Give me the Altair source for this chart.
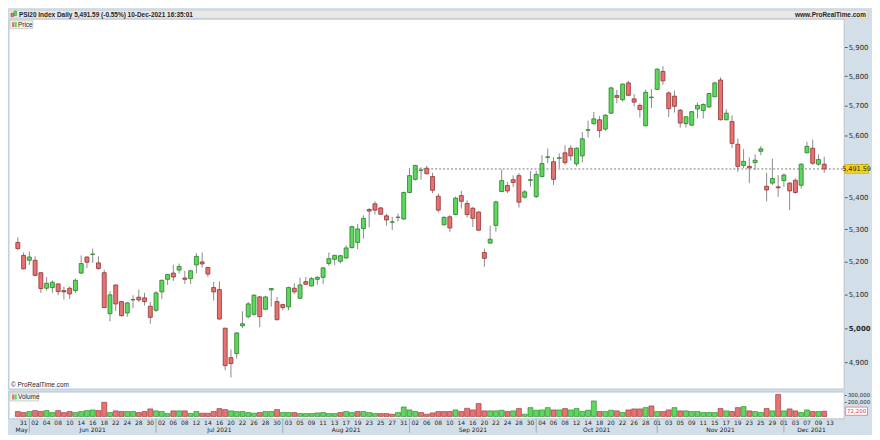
import altair as alt
import pandas as pd

# ---------------- values ----------------
title_text = "PSI20 Index Daily 5,491.59 (-0.55%) 10-Dec-2021 16:35:01"
site_text = "www.ProRealTime.com"
copyright_text = "\u00a9 ProRealTime.com"

sessions = pd.bdate_range("2021-05-28", "2021-12-10")       # one candle per session
axis_sessions = pd.bdate_range("2021-05-28", "2021-12-13")  # date axis runs one session further

open_ = [5259, 5219, 5204, 5204, 5166, 5119, 5121, 5132, 5112, 5119,
         5112, 5165, 5214, 5222, 5196, 5166, 5043, 5129, 5079, 5045,
         5084, 5092, 5090, 5065, 5053, 5108, 5146, 5165, 5174, 5150,
         5148, 5190, 5199, 5182, 5121, 5115, 5000, 4914, 4926, 5007,
         5034, 5041, 5093, 5056, 5114, 5079, 5070, 5063, 5119, 5089,
         5139, 5126, 5146, 5152, 5194, 5207, 5201, 5211, 5243, 5259,
         5302, 5362, 5380, 5367, 5342, 5322, 5337, 5332, 5416, 5458,
         5487, 5494, 5467, 5404, 5314, 5339, 5346, 5406, 5381, 5366,
         5354, 5228, 5257, 5312, 5419, 5438, 5457, 5470, 5401, 5455,
         5403, 5467, 5529, 5515, 5526, 5544, 5559, 5508, 5534, 5618,
         5640, 5653, 5622, 5675, 5734, 5720, 5777, 5723, 5701, 5633,
         5727, 5755, 5816, 5743, 5732, 5685, 5640, 5635, 5689, 5684,
         5696, 5730, 5787, 5653, 5647, 5572, 5503, 5500, 5512, 5549,
         5436, 5446, 5434, 5454, 5446, 5455, 5439, 5544, 5559, 5507,
         5507]
high = [5275, 5228, 5231, 5216, 5167, 5153, 5143, 5134, 5124, 5124,
        5148, 5219, 5216, 5240, 5216, 5175, 5110, 5129, 5081, 5078,
        5098, 5115, 5105, 5078, 5110, 5145, 5162, 5190, 5194, 5172,
        5175, 5226, 5228, 5184, 5138, 5140, 5001, 4938, 4988, 5050,
        5078, 5101, 5096, 5096, 5119, 5093, 5072, 5124, 5134, 5151,
        5153, 5153, 5155, 5182, 5228, 5221, 5221, 5250, 5311, 5317,
        5344, 5366, 5388, 5370, 5349, 5339, 5349, 5419, 5495, 5505,
        5497, 5502, 5479, 5413, 5341, 5344, 5403, 5421, 5391, 5370,
        5356, 5240, 5311, 5390, 5490, 5449, 5471, 5478, 5424, 5485,
        5485, 5536, 5558, 5530, 5542, 5569, 5569, 5562, 5612, 5650,
        5679, 5665, 5672, 5764, 5753, 5775, 5784, 5739, 5708, 5754,
        5756, 5827, 5834, 5749, 5751, 5689, 5664, 5682, 5711, 5708,
        5743, 5781, 5796, 5688, 5668, 5591, 5556, 5529, 5539, 5566,
        5479, 5525, 5471, 5477, 5449, 5461, 5510, 5580, 5587, 5539,
        5531]
low = [5236, 5176, 5190, 5155, 5105, 5112, 5105, 5098, 5085, 5087,
       5105, 5162, 5180, 5196, 5175, 5059, 5020, 5051, 5034, 5034,
       5059, 5078, 5067, 5013, 5048, 5087, 5129, 5141, 5164, 5132,
       5132, 5164, 5182, 5153, 5082, 5025, 4878, 4857, 4911, 5001,
       5029, 5037, 5003, 5053, 5064, 5023, 5053, 5053, 5102, 5087,
       5129, 5124, 5130, 5132, 5187, 5190, 5194, 5209, 5240, 5238,
       5271, 5306, 5346, 5345, 5311, 5297, 5324, 5329, 5413, 5454,
       5457, 5474, 5414, 5353, 5311, 5292, 5344, 5365, 5337, 5307,
       5294, 5184, 5255, 5292, 5417, 5414, 5434, 5368, 5396, 5434,
       5398, 5464, 5510, 5440, 5495, 5505, 5519, 5500, 5513, 5594,
       5635, 5594, 5616, 5672, 5708, 5714, 5732, 5698, 5660, 5631,
       5692, 5754, 5771, 5662, 5677, 5627, 5627, 5632, 5657, 5657,
       5692, 5729, 5651, 5651, 5560, 5482, 5495, 5446, 5488, 5536,
       5388, 5440, 5402, 5434, 5360, 5412, 5429, 5543, 5505, 5502,
       5479]
close = [5240, 5178, 5214, 5158, 5118, 5134, 5137, 5109, 5108, 5102,
         5143, 5194, 5198, 5223, 5179, 5061, 5099, 5072, 5037, 5075,
         5085, 5084, 5079, 5032, 5105, 5143, 5161, 5153, 5185, 5146,
         5172, 5216, 5193, 5162, 5108, 5027, 4891, 4897, 4986, 5013,
         5072, 5098, 5034, 5093, 5118, 5025, 5061, 5121, 5108, 5129,
         5131, 5148, 5152, 5181, 5209, 5219, 5218, 5242, 5308, 5301,
         5334, 5357, 5360, 5347, 5329, 5323, 5338, 5416, 5470, 5503,
         5488, 5476, 5423, 5360, 5337, 5304, 5398, 5388, 5346, 5334,
         5297, 5210, 5269, 5386, 5454, 5421, 5448, 5385, 5418, 5457,
         5474, 5509, 5531, 5458, 5528, 5512, 5534, 5559, 5590, 5620,
         5656, 5617, 5668, 5760, 5728, 5773, 5735, 5712, 5687, 5745,
         5729, 5824, 5784, 5690, 5698, 5642, 5663, 5680, 5701, 5704,
         5741, 5777, 5653, 5675, 5575, 5500, 5516, 5495, 5520, 5557,
         5424, 5461, 5431, 5472, 5421, 5416, 5507, 5565, 5510, 5522,
         5491.59]
volume = [68000, 54000, 68000, 81000, 68000, 81000, 54000, 81000, 54000, 68000,
          54000, 68000, 81000, 90000, 81000, 195000, 54000, 77000, 68000, 68000,
          68000, 54000, 68000, 104000, 77000, 68000, 40000, 77000, 77000, 77000,
          40000, 68000, 45000, 45000, 68000, 109000, 95000, 77000, 68000, 68000,
          54000, 45000, 54000, 68000, 68000, 95000, 54000, 54000, 54000, 40000,
          40000, 40000, 49000, 54000, 40000, 40000, 54000, 68000, 54000, 68000,
          68000, 54000, 40000, 40000, 40000, 31000, 54000, 131000, 90000, 68000,
          54000, 31000, 49000, 68000, 68000, 68000, 90000, 68000, 113000, 90000,
          177000, 77000, 77000, 77000, 86000, 68000, 77000, 109000, 31000, 122000,
          86000, 90000, 122000, 90000, 90000, 109000, 90000, 109000, 68000, 86000,
          214000, 68000, 68000, 86000, 77000, 54000, 90000, 104000, 104000, 122000,
          145000, 68000, 68000, 90000, 122000, 77000, 77000, 68000, 68000, 54000,
          54000, 54000, 109000, 77000, 68000, 122000, 136000, 77000, 68000, 54000,
          109000, 77000, 305000, 77000, 104000, 77000, 54000, 90000, 68000, 68000,
          72200]

price_ticks = [4900, 5000, 5100, 5200, 5300, 5400, 5500, 5600, 5700, 5800, 5900]
volume_ticks = [200000, 300000]
last_close = 5491.59
last_volume = 72200
line_start = "2021-09-02"

price_domain = [4824, 5998]
volume_domain = [-33000, 337000]
x_domain = [-0.67, 142.6]

# ---------------- layout / style ----------------
W, AX, HP, HV, HB = 840, 24, 372, 27, 14
GREEN, GREEN_D = "#5cd85c", "#2b7d2b"
RED, RED_D = "#e97171", "#8e3434"
PANEL, EDGE = "#d3dfe8", "#a9bccb"
FONT = "DejaVu Sans"

df = pd.DataFrame({"k": range(len(sessions)), "date": sessions.strftime("%Y-%m-%d"),
                   "open": open_, "high": high, "low": low, "close": close,
                   "volume": volume})
df["vup"] = df["close"].diff() > 0

k_of = {d.strftime("%Y-%m-%d"): i for i, d in enumerate(axis_sessions)}
day_labels = [d.strftime("%d") for d in axis_sessions]
tick_ks = list(range(1, len(axis_sessions), 2))
ticks = pd.DataFrame({"k": tick_ks, "label": [day_labels[k] for k in tick_ks]})

# month separators and labels
firsts = []
for i, d in enumerate(axis_sessions):
    if i == 0 or d.month != axis_sessions[i - 1].month:
        firsts.append((i, d))
starts = [x_domain[0]] + [i for i, _ in firsts[1:]]
ends = starts[1:] + [x_domain[1]]
mlabels = ["May" if d.month == 5 else d.strftime("%b %Y") for _, d in firsts]
months = pd.DataFrame({"mid": [(a + b) / 2 for a, b in zip(starts, ends)], "label": mlabels})
seps = pd.DataFrame({"start": [i for i, _ in firsts[1:]]})

one = pd.DataFrame({"z": [0]})
xs = alt.Scale(domain=x_domain, nice=False, zero=False)
ys = alt.Scale(type="log", domain=price_domain, nice=False, zero=False)
vs = alt.Scale(domain=volume_domain, nice=False, zero=False)


def deco():
    return alt.Chart(one)


def small_text(txt, x, y, align="left", bold=False, size=6.5):
    return deco().mark_text(align=align, baseline="middle", fontSize=size,
                            fontWeight="bold" if bold else "normal",
                            font="Liberation Sans", color="#1e1e1e").encode(
        x=alt.value(x), y=alt.value(y), text=alt.value(txt))


def plot_bg(h):
    return deco().mark_rect(fill="#ffffff", stroke=EDGE, strokeWidth=0.8).encode(
        x=alt.value(0), x2=alt.value(W), y=alt.value(0), y2=alt.value(h))


# ---------------- price panel ----------------
header_bg = deco().mark_rect(fill="#e8e8e8", stroke="#c6c6c6", strokeWidth=0.6).encode(
    x=alt.value(0), x2=alt.value(W + AX), y=alt.value(-9), y2=alt.value(-1))
hdr_icon_r = deco().mark_rect(fill=RED, stroke=RED_D, strokeWidth=0.5).encode(
    x=alt.value(2), x2=alt.value(4.5), y=alt.value(-6), y2=alt.value(-2.5))
hdr_icon_g = deco().mark_rect(fill=GREEN, stroke=GREEN_D, strokeWidth=0.5).encode(
    x=alt.value(5), x2=alt.value(7.5), y=alt.value(-8), y2=alt.value(-3.5))
header_text = small_text(title_text, 10, -4.6, bold=True)
header_site = small_text(site_text, W + AX - 2, -4.6, align="right", bold=True)

yaxis = alt.Axis(orient="right", values=price_ticks, format=",.0f", labelFontSize=7,
                 labelFont=FONT, labelColor="#2b2b2b", tickSize=3, tickColor="#5a5a5a",
                 labelPadding=1, domain=False, grid=False, title=None,
                 labelFontWeight=alt.condition("datum.value == 5000", alt.value("bold"),
                                               alt.value("normal")))

base = alt.Chart(df).encode(x=alt.X("k:Q", scale=xs, axis=None))
wick = base.mark_rule(color="#8a8a8a", strokeWidth=1).encode(
    y=alt.Y("low:Q", scale=ys, axis=yaxis), y2="high:Q")
body = base.mark_bar(size=4, strokeWidth=0.8).encode(
    y=alt.Y("open:Q", scale=ys), y2="close:Q",
    fill=alt.condition("datum.close >= datum.open", alt.value(GREEN), alt.value(RED)),
    stroke=alt.condition("datum.close >= datum.open", alt.value(GREEN_D), alt.value(RED_D)))

last_df = pd.DataFrame({"k0": [k_of[line_start]], "p": [last_close],
                        "t": [f"{last_close:,.2f}"]})
last_line = alt.Chart(last_df).mark_rule(color="#7a7a7a", strokeDash=[2, 2], strokeWidth=1).encode(
    x=alt.X("k0:Q", scale=xs), x2=alt.value(W), y=alt.Y("p:Q", scale=ys))
box_path = "M-1,-0.375L1,-0.375L1,0.375L-1,0.375Z"
last_box = alt.Chart(last_df).mark_point(shape=box_path, filled=True, fill="#f3d31b",
                                         stroke="#c9a800", strokeWidth=0.6, opacity=1,
                                         size=AX * AX).encode(
    x=alt.value(W + AX / 2 + 0.5), y=alt.Y("p:Q", scale=ys))
last_text = alt.Chart(last_df).mark_text(fontSize=6.5, font=FONT, color="#222",
                                         baseline="middle").encode(
    x=alt.value(W + AX / 2 + 0.5), y=alt.Y("p:Q", scale=ys), text="t:N")

leg_box = deco().mark_rect(fill="#f2f2f2", stroke="#b5b5b5", strokeWidth=0.6).encode(
    x=alt.value(1), x2=alt.value(24), y=alt.value(1.5), y2=alt.value(9.5))
leg_r = deco().mark_rect(fill=RED).encode(x=alt.value(3), x2=alt.value(5.3),
                                          y=alt.value(3), y2=alt.value(8))
leg_g = deco().mark_rect(fill=GREEN).encode(x=alt.value(5.5), x2=alt.value(7.8),
                                            y=alt.value(3), y2=alt.value(8))
leg_text = small_text("Price", 9, 5.6)
copy_text = small_text(copyright_text, 2, HP - 4)

price = alt.layer(plot_bg(HP), header_bg, hdr_icon_r, hdr_icon_g, header_text, header_site,
                  wick, body, last_line, last_box, last_text,
                  leg_box, leg_r, leg_g, leg_text, copy_text).properties(width=W, height=HP)

# ---------------- volume panel ----------------
vaxis = alt.Axis(orient="right", values=volume_ticks, format=",.0f", labelFontSize=5.5,
                 labelFont=FONT, labelColor="#2b2b2b", tickSize=2, tickColor="#5a5a5a",
                 labelPadding=1, domain=False, grid=False, title=None)

vbars = alt.Chart(df).mark_bar(size=5, strokeWidth=0.6).encode(
    x=alt.X("k:Q", scale=xs, axis=None),
    y=alt.Y("volume:Q", scale=vs, axis=vaxis), y2=alt.value(HV),
    fill=alt.condition("datum.vup", alt.value(GREEN), alt.value(RED)),
    stroke=alt.condition("datum.vup", alt.value(GREEN_D), alt.value(RED_D)))

day_text = alt.Chart(ticks).mark_text(fontSize=6, font=FONT, color="#222",
                                      baseline="middle").encode(
    x=alt.X("k:Q", scale=xs), y=alt.value(HV + 4.4), text="label:N")
month_sep = alt.Chart(seps).mark_rule(color="#8aa0b2", strokeWidth=0.8).encode(
    x=alt.X("start:Q", scale=xs), y=alt.value(HV), y2=alt.value(HV + HB))
month_text = alt.Chart(months).mark_text(fontSize=6, font=FONT, color="#222",
                                         baseline="middle").encode(
    x=alt.X("mid:Q", scale=xs), y=alt.value(HV + 10.9), text="label:N")

vleg_box = deco().mark_rect(fill="#f2f2f2", stroke="#b5b5b5", strokeWidth=0.6).encode(
    x=alt.value(1), x2=alt.value(30), y=alt.value(1), y2=alt.value(9))
vleg_r = deco().mark_rect(fill=RED).encode(x=alt.value(3), x2=alt.value(5.3),
                                           y=alt.value(2.5), y2=alt.value(7.5))
vleg_g = deco().mark_rect(fill=GREEN).encode(x=alt.value(5.5), x2=alt.value(7.8),
                                             y=alt.value(2.5), y2=alt.value(7.5))
vleg_text = small_text("Volume", 9, 5.1)

lv_df = pd.DataFrame({"v": [last_volume], "t": [f"{last_volume:,}"]})
lv_box = alt.Chart(lv_df).mark_point(shape=box_path, filled=True, fill="#ffffff",
                                     stroke="#e05050", strokeWidth=0.6, opacity=1,
                                     size=22 * 22).encode(
    x=alt.value(W + AX / 2 + 0.5), y=alt.Y("v:Q", scale=vs))
lv_text = alt.Chart(lv_df).mark_text(fontSize=5.5, font=FONT, color="#d83a3a",
                                     baseline="middle").encode(
    x=alt.value(W + AX / 2 + 0.5), y=alt.Y("v:Q", scale=vs), text="t:N")

vol = alt.layer(plot_bg(HV), vbars, day_text, month_sep, month_text,
                vleg_box, vleg_r, vleg_g, vleg_text, lv_box, lv_text).properties(width=W, height=HV)

chart = alt.vconcat(price, vol, spacing=1).properties(
    padding=0, background=PANEL
).configure_view(stroke=None).configure(font=FONT)

chart.save("out.html", embed_options={"renderer": "svg", "actions": False})
